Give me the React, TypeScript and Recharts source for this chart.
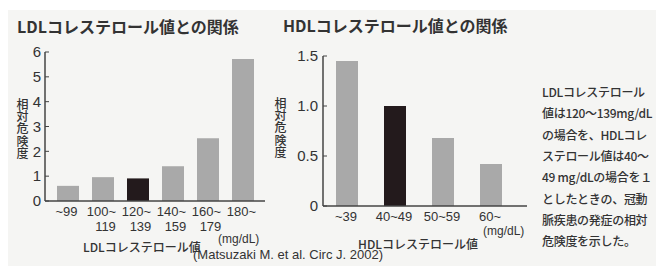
import * as React from 'react';
import { Bar, BarChart, Cell, XAxis, YAxis } from 'recharts';

const ldlCategories = ['~99', '100~\n119', '120~\n139', '140~\n159', '160~\n179', '180~'];
const ldlRisk = [0.61, 0.96, 0.91, 1.4, 2.53, 5.72];
const ldlTicks = [0, 1, 2, 3, 4, 5, 6];
const ldlReferenceIndex = 2;

const hdlCategories = ['~39', '40~49', '50~59', '60~'];
const hdlRisk = [1.45, 1.0, 0.68, 0.42];
const hdlTicks = [0, 0.5, 1.0, 1.5];
const hdlTickLabels = ['0', '0.5', '1.0', '1.5'];
const hdlReferenceIndex = 1;

const noteLines = [
  'LDLコレステロール',
  '値は120～139mg/dL',
  'の場合を、HDLコレ',
  'ステロール値は40～',
  '49 mg/dLの場合を１',
  'としたときの、冠動',
  '脈疾患の発症の相対',
  '危険度を示した。',
];

const GRAY = '#a9a9a9';
const BLACK = '#231a1c';
const INK = '#333333';
const JP = "'Noto Sans CJK JP', 'Noto Sans', sans-serif";
const NUM = "'Liberation Sans', Arial, sans-serif";

const ldlData = ldlCategories.map((name, i) => ({ name, risk: ldlRisk[i] }));
const hdlData = hdlCategories.map((name, i) => ({ name, risk: hdlRisk[i] }));

function CategoryTick(props: any) {
  const { x, y, payload } = props;
  const lines = String(payload.value).split('\n');
  return (
    <text x={x} y={y} fill={INK} fontSize={13} fontFamily={NUM} textAnchor="middle">
      {lines.map((line, i) => (
        <tspan key={i} x={i === 0 ? x - 1 : x + 3} dy={i === 0 ? 7 : 15}>
          {line}
        </tspan>
      ))}
    </text>
  );
}

function Label(props: {
  x: number;
  y: number;
  size?: number;
  weight?: number;
  spacing?: number;
  children: React.ReactNode;
  font?: string;
}) {
  return (
    <div
      style={{
        position: 'absolute',
        left: props.x,
        top: props.y,
        fontSize: props.size ?? 12,
        fontWeight: props.weight ?? 400,
        letterSpacing: props.spacing ?? 0,
        lineHeight: 1,
        fontFamily: props.font ?? JP,
        color: INK,
        whiteSpace: 'nowrap',
      }}
    >
      {props.children}
    </div>
  );
}

function VerticalLabel(props: { x: number; y: number; text: string }) {
  return (
    <div
      style={{
        position: 'absolute',
        left: props.x,
        top: props.y,
        fontSize: 12,
        lineHeight: 1,
        letterSpacing: 0.4,
        fontWeight: 500,
        fontFamily: JP,
        color: INK,
        writingMode: 'vertical-rl',
      }}
    >
      {props.text}
    </div>
  );
}

export default function App() {
  return (
    <div
      style={{
        position: 'absolute',
        left: 0,
        top: 0,
        width: 656,
        height: 266,
        background: '#ffffff',
        overflow: 'hidden',
      }}
    >
      <div style={{ position: 'absolute', left: 8, top: 10, right: 0, bottom: 0, background: '#f5f5f3' }} />

      <div style={{ position: 'absolute', left: 0, top: 0 }}>
        <BarChart width={280} height={266} data={ldlData} margin={{ top: 52, right: 15, bottom: 35, left: 0 }} barSize={22}>
          <XAxis
            dataKey="name"
            interval={0}
            tick={<CategoryTick />}
            tickLine={false}
            height={30}
            padding={{ left: 5, right: 5 }}
            axisLine={{ stroke: '#444', strokeWidth: 1.5 }}
          />
          <YAxis
            width={45}
            domain={[0, 6]}
            ticks={ldlTicks}
            interval={0}
            tickSize={-4}
            tickMargin={8}
            tick={{ fill: INK, fontSize: 15, fontFamily: NUM }}
            tickLine={{ stroke: '#444' }}
            axisLine={{ stroke: '#444', strokeWidth: 1.5 }}
          />
          <Bar dataKey="risk" isAnimationActive={false}>
            {ldlData.map((_, i) => (
              <Cell key={i} fill={i === ldlReferenceIndex ? BLACK : GRAY} />
            ))}
          </Bar>
        </BarChart>
      </div>

      <div style={{ position: 'absolute', left: 270, top: 0 }}>
        <BarChart width={270} height={266} data={hdlData} margin={{ top: 56, right: 13, bottom: 30, left: 0 }} barSize={22}>
          <XAxis
            dataKey="name"
            interval={0}
            tick={<CategoryTick />}
            tickLine={false}
            height={30}
            padding={{ left: 0, right: 12 }}
            axisLine={{ stroke: '#444', strokeWidth: 1.5 }}
          />
          <YAxis
            width={53}
            domain={[0, 1.5]}
            ticks={hdlTicks}
            interval={0}
            tickSize={-4}
            tickMargin={9}
            tickFormatter={(v: number) => hdlTickLabels[hdlTicks.indexOf(v)] ?? String(v)}
            tick={{ fill: INK, fontSize: 15, fontFamily: NUM }}
            tickLine={{ stroke: '#444' }}
            axisLine={{ stroke: '#444', strokeWidth: 1.5 }}
          />
          <Bar dataKey="risk" isAnimationActive={false}>
            {hdlData.map((_, i) => (
              <Cell key={i} fill={i === hdlReferenceIndex ? BLACK : GRAY} />
            ))}
          </Bar>
        </BarChart>
      </div>

      <Label x={17} y={18} size={16} weight={700}>LDLコレステロール値との関係</Label>
      <Label x={283} y={17} size={16} weight={700}>HDLコレステロール値との関係</Label>
      <VerticalLabel x={16} y={98} text="相対危険度" />
      <VerticalLabel x={274} y={97} text="相対危険度" />
      <Label x={83} y={241} weight={500}>LDLコレステロール値</Label>
      <Label x={358} y={238} weight={500}>HDLコレステロール値</Label>
      <Label x={218} y={233} font={NUM}>(mg/dL)</Label>
      <Label x={483} y={225} font={NUM}>(mg/dL)</Label>
      <Label x={193} y={248} size={13} font={NUM}>(Matsuzaki M. et al. Circ J. 2002)</Label>

      {noteLines.map((line, i) => (
        <Label key={i} x={542} y={86 + i * 21.3} weight={500} spacing={-0.3}>
          {line}
        </Label>
      ))}
    </div>
  );
}
